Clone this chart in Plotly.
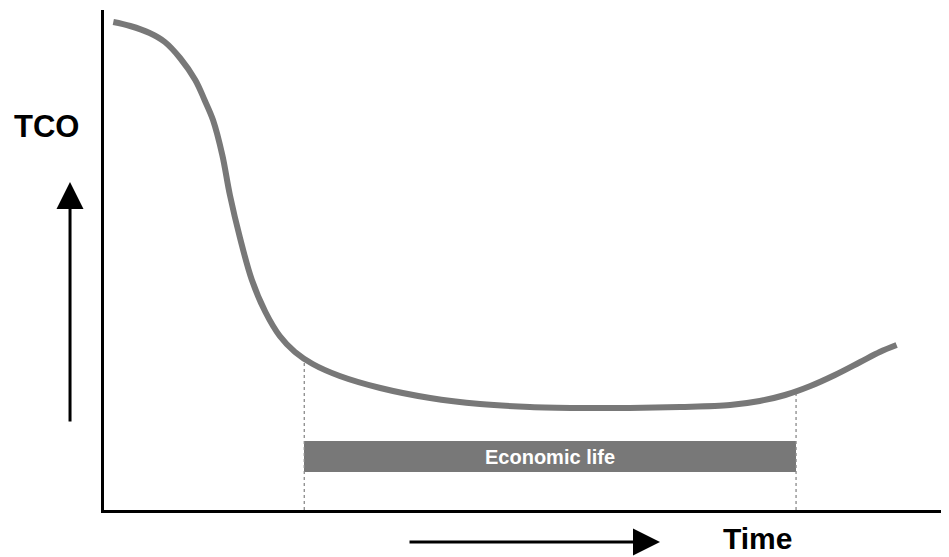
import plotly.graph_objects as go

# Curve: time (0-100) vs TCO (0-100)
time = [1.1, 3.1, 5.4, 7.2, 9.0, 10.8, 11.9, 12.9, 14.0, 14.9, 16.1, 17.5, 19.1, 20.8,
        22.6, 24.7, 27.9, 32.7, 38.6, 44.5, 50.4, 56.3, 62.2, 68.2, 74.1, 77.6, 80.6,
        83.6, 86.5, 89.5, 91.8, 93.8]
tco = [97.6, 96.8, 95.4, 93.6, 90.4, 86.0, 82.0, 78.0, 71.0, 63.0, 54.4, 46.0, 39.6, 34.8,
       31.6, 29.2, 26.8, 24.4, 22.4, 21.2, 20.6, 20.4, 20.4, 20.6, 21.0, 21.8, 23.0,
       24.8, 27.0, 29.6, 31.6, 33.0]

econ_start = 23.7
econ_end = 81.9
econ_tco_at_bounds = [30.8, 23.4]
econ_band = [7.6, 13.8]
econ_label = "Economic life"

GREY = "#787878"
FONT = "Arial, Liberation Sans, sans-serif"

fig = go.Figure()

# dotted guides
for xv, top in zip([econ_start, econ_end], econ_tco_at_bounds):
    fig.add_trace(go.Scatter(x=[xv, xv], y=[0, top], mode="lines",
                             line=dict(color="#8a8a8a", width=1.3, dash="dot"),
                             hoverinfo="skip", showlegend=False))

# economic life bar
fig.add_trace(go.Bar(orientation="h", base=[econ_start], x=[econ_end - econ_start],
                     y=[(econ_band[0] + econ_band[1]) / 2], width=[econ_band[1] - econ_band[0]],
                     marker=dict(color=GREY, line=dict(width=0)),
                     hoverinfo="skip", showlegend=False))
fig.add_annotation(x=(econ_start + econ_end) / 2, y=(econ_band[0] + econ_band[1]) / 2,
                   text="<b>" + econ_label + "</b>", showarrow=False,
                   xanchor="center", yanchor="middle",
                   font=dict(color="white", size=20, family=FONT))

# TCO curve
fig.add_trace(go.Scatter(x=time, y=tco, mode="lines",
                         line=dict(color=GREY, width=6, shape="spline", smoothing=1.0),
                         hoverinfo="skip", showlegend=False))

# page body has an 8px margin: compensate so the plot area sits at 104..949 x 10..510
fig.update_layout(
    width=941, height=549,
    margin=dict(l=96, r=0, t=2, b=47),
    paper_bgcolor="white", plot_bgcolor="white",
    xaxis=dict(range=[0, 100], showgrid=False, zeroline=False, showticklabels=False,
               ticks="", showline=True, linecolor="black", linewidth=3, fixedrange=True),
    yaxis=dict(range=[0, 100], showgrid=False, zeroline=False, showticklabels=False,
               ticks="", showline=True, linecolor="black", linewidth=3, fixedrange=True),
    bargap=0,
    hovermode=False,
)

# TCO label and upward arrow
fig.add_annotation(xref="paper", yref="paper", x=-0.068, y=0.767, text="<b>TCO</b>",
                   xanchor="center", yanchor="middle",
                   showarrow=False, font=dict(family=FONT, size=31, color="black"))
fig.add_annotation(xref="paper", yref="paper", x=-0.0402, y=0.656, text="",
                   showarrow=True, ax=0, ay=241, arrowhead=2, arrowsize=1.8,
                   arrowwidth=3, arrowcolor="black", standoff=0)

# Time label and right arrow
fig.add_annotation(xref="paper", yref="paper", x=0.773, y=-0.056, text="<b>Time</b>",
                   xanchor="center", yanchor="middle",
                   showarrow=False, font=dict(family=FONT, size=30, color="black"))
fig.add_annotation(xref="paper", yref="paper", x=0.658, y=-0.064, text="",
                   showarrow=True, ax=-252, ay=0, arrowhead=2, arrowsize=1.8,
                   arrowwidth=3, arrowcolor="black", standoff=0)

fig.write_html("out.html")
